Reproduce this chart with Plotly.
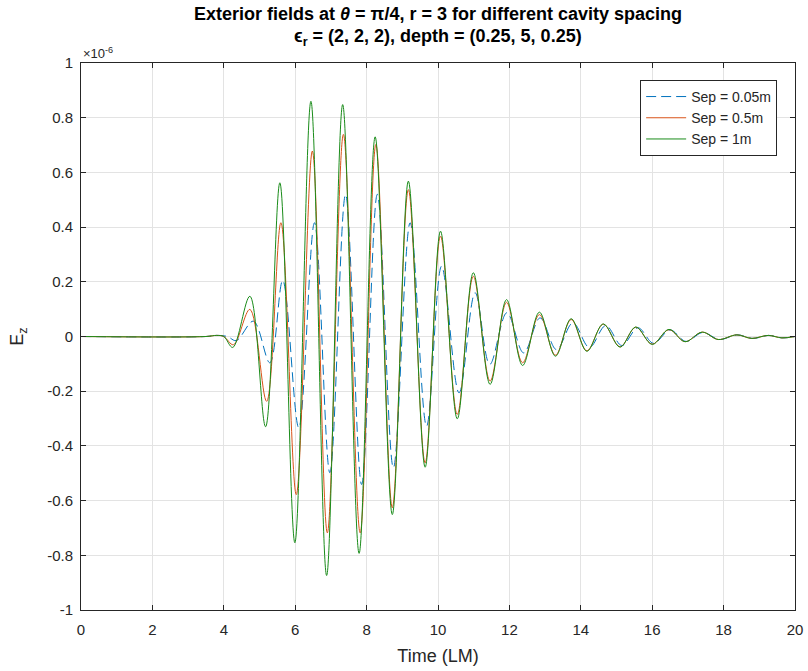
import plotly.graph_objects as go

# ---- data (values in units of 1e-6) ----
t_sep005 = [0, 3.5, 3.8, 4.1, 4.35, 4.83, 5.29, 5.65, 6.1, 6.54, 6.97, 7.41, 7.86, 8.3, 8.75, 9.22, 9.68,
            10.1, 10.59, 11.04, 11.45, 11.93, 12.4, 12.86, 13.32, 13.78, 14.24, 14.7, 15.15, 15.6,
            16.04, 16.5, 16.95, 17.42, 17.88, 18.38, 18.82, 19.27, 19.65, 20]
e_sep005 = [0, 0, 0.004, 0, -0.015, 0.056, -0.096, 0.205, -0.334, 0.416, -0.498, 0.519, -0.541, 0.52,
            -0.48, 0.416, -0.328, 0.257, -0.206, 0.16, -0.102, 0.087, -0.06, 0.068, -0.048, 0.05,
            -0.04, 0.04, -0.033, 0.032, -0.025, 0.024, -0.018, 0.015, -0.011, 0.006, -0.007, 0.004,
            -0.005, 0]

t_sep05 = [0, 3.5, 3.8, 4.0, 4.27, 4.73, 5.2, 5.6, 6.03, 6.48, 6.9, 7.35, 7.82, 8.26, 8.72, 9.17, 9.64,
           10.07, 10.54, 10.99, 11.46, 11.92, 12.37, 12.84, 13.29, 13.73, 14.17, 14.63, 15.1, 15.54,
           16.0, 16.47, 16.92, 17.4, 17.85, 18.37, 18.79, 19.25, 19.63, 20]
e_sep05 = [0, 0, 0.004, 0, -0.03, 0.099, -0.237, 0.416, -0.578, 0.678, -0.718, 0.739, -0.718, 0.702,
           -0.626, 0.537, -0.462, 0.367, -0.285, 0.22, -0.163, 0.125, -0.096, 0.08, -0.068, 0.062,
           -0.052, 0.045, -0.038, 0.034, -0.028, 0.025, -0.019, 0.016, -0.011, 0.006, -0.007, 0.004,
           -0.005, 0]

t_sep1 = [0, 3.5, 3.8, 4.0, 4.25, 4.73, 5.17, 5.57, 5.99, 6.44, 6.88, 7.33, 7.79, 8.24, 8.72, 9.17, 9.64,
          10.07, 10.54, 10.99, 11.46, 11.92, 12.37, 12.84, 13.29, 13.73, 14.17, 14.63, 15.1, 15.54,
          16.0, 16.47, 16.92, 17.4, 17.85, 18.37, 18.79, 19.25, 19.63, 20]
e_sep1 = [0, 0, 0.004, 0, -0.04, 0.147, -0.33, 0.562, -0.754, 0.86, -0.874, 0.848, -0.793, 0.73,
          -0.651, 0.568, -0.478, 0.385, -0.301, 0.233, -0.175, 0.135, -0.106, 0.089, -0.072, 0.065,
          -0.054, 0.046, -0.039, 0.035, -0.029, 0.026, -0.019, 0.016, -0.011, 0.006, -0.007, 0.004,
          -0.005, 0]

x_ticks = [0, 2, 4, 6, 8, 10, 12, 14, 16, 18, 20]
y_ticks = [-1, -0.8, -0.6, -0.4, -0.2, 0, 0.2, 0.4, 0.6, 0.8, 1]
y_ticktext = ["-1", "-0.8", "-0.6", "-0.4", "-0.2", "0", "0.2", "0.4", "0.6", "0.8", "1"]

series = [
    ("Sep = 0.05m", t_sep005, e_sep005, "#0072BD", "10px,5px"),
    ("Sep = 0.5m", t_sep05, e_sep05, "#D95319", "solid"),
    ("Sep = 1m", t_sep1, e_sep1, "#1A8C1A", "solid"),
]

fig = go.Figure()
for name, t, e, col, dash in series:
    fig.add_trace(go.Scatter(x=t, y=e, mode="lines", name=name,
                             line=dict(color=col, width=1, dash=dash, shape="spline", smoothing=1.0)))

font_fam = "Liberation Sans, Arial, sans-serif"
axis_common = dict(showgrid=True, gridcolor="#E3E3E3", gridwidth=1, zeroline=False,
                   showline=True, linecolor="#262626", linewidth=1, mirror="ticks",
                   ticks="inside", ticklen=5, tickcolor="#262626", automargin=False,
                   tickfont=dict(family=font_fam, size=15, color="#262626"))

fig.update_layout(
    width=808, height=671,
    margin=dict(l=81, r=13, t=63, b=61),
    paper_bgcolor="white", plot_bgcolor="white",
    font=dict(family=font_fam, color="#262626"),
    showlegend=True,
    legend=dict(x=0.975, y=0.969, xanchor="right", yanchor="top",
                bgcolor="white", bordercolor="#262626", borderwidth=1,
                font=dict(family=font_fam, size=14, color="#262626"),
                tracegroupgap=0, itemwidth=40),
    xaxis=dict(range=[0, 20], tickvals=x_ticks, ticklabelstandoff=6,
               title=dict(text="Time (LM)", font=dict(family=font_fam, size=18, color="#262626"), standoff=12),
               **axis_common),
    yaxis=dict(range=[-1, 1], tickvals=y_ticks, ticktext=y_ticktext, ticklabelstandoff=4,
               title=dict(text="E<sub>z</sub>", font=dict(family=font_fam, size=18, color="#262626"), standoff=18),
               **axis_common),
    annotations=[
        dict(text="<b>Exterior fields at <i>θ</i> = π/4, r = 3 for different cavity spacing</b>",
             x=0.5, y=1, xref="paper", yref="paper", yanchor="middle", yshift=49, showarrow=False,
             font=dict(family=font_fam, size=18, color="#000000")),
        dict(text="<b>ϵ<sub>r</sub> = (2, 2, 2), depth = (0.25, 5, 0.25)</b>",
             x=0.5, y=1, xref="paper", yref="paper", yanchor="middle", yshift=26, showarrow=False,
             font=dict(family=font_fam, size=18, color="#000000")),
        dict(text="×10<sup>-6</sup>", x=0, y=1, xref="paper", yref="paper", xanchor="left",
             yanchor="bottom", showarrow=False, font=dict(family=font_fam, size=13, color="#262626")),
    ],
)

fig.write_html("out.html")
